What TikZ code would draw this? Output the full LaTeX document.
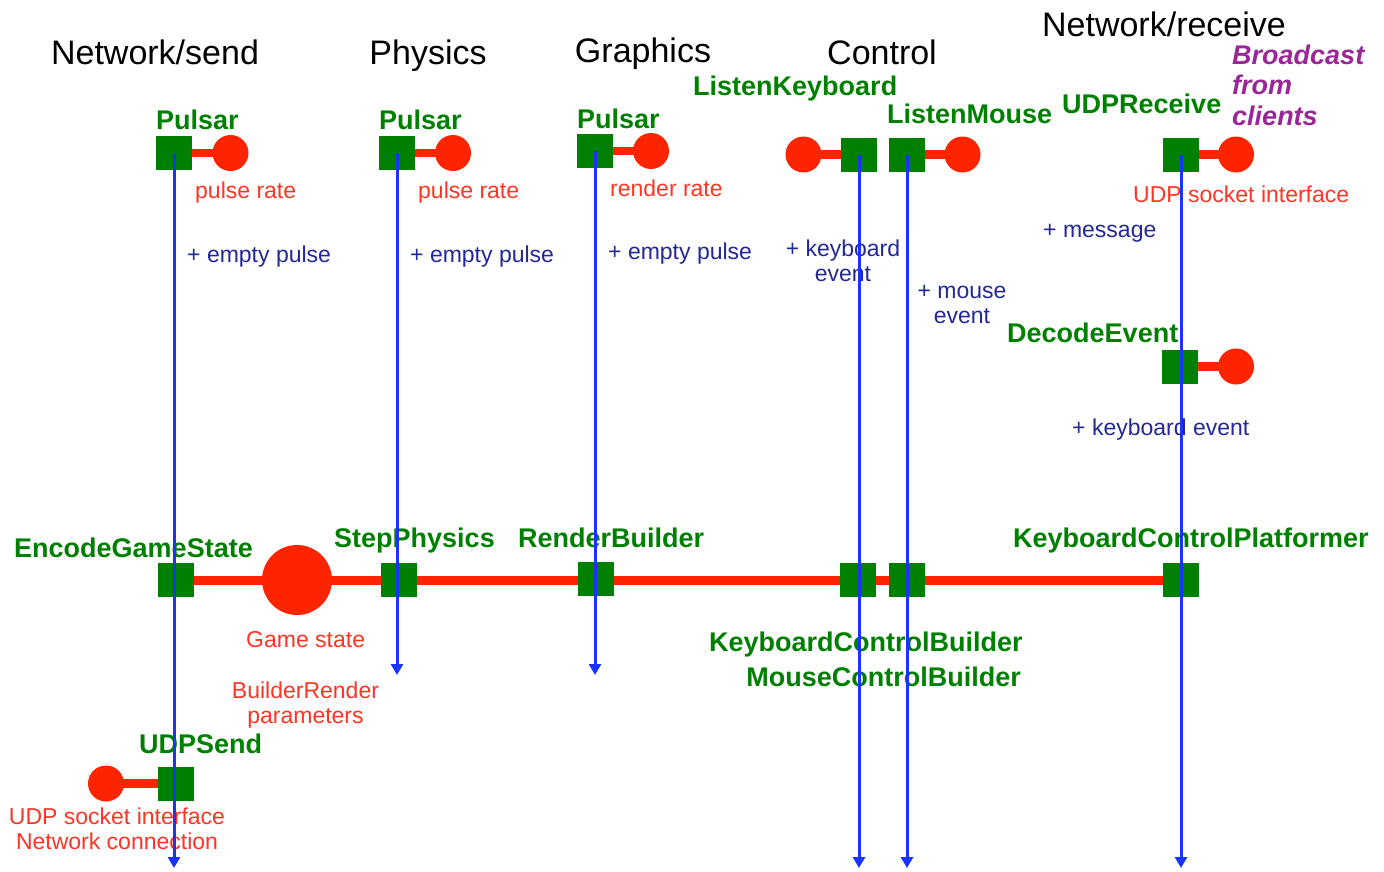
\documentclass[tikz,border=0pt]{standalone}
\usepackage{fontspec}
\setmainfont{Liberation Sans}
\usetikzlibrary{arrows.meta}
\definecolor{boxgreen}{RGB}{0,128,0}
\definecolor{portred}{RGB}{255,36,0}
\definecolor{notered}{RGB}{255,52,36}
\definecolor{flowblue}{RGB}{26,51,255}
\definecolor{msgblue}{RGB}{36,40,150}
\definecolor{castpurple}{RGB}{153,40,150}
\begin{document}
\begin{tikzpicture}[x=1pt,y=-1pt,
  comp/.style={rectangle,fill=boxgreen,minimum width=36pt,minimum height=34pt,inner sep=0pt},
  port/.style={circle,fill=portred,minimum size=36pt,inner sep=0pt},
  link/.style={draw=portred,line width=8.5pt},
  flow/.style={draw=flowblue,line width=3pt,-{Triangle[width=12pt,length=11pt]}},
  colhead/.style={font=\fontsize{34}{40}\selectfont,anchor=base,inner sep=0pt},
  compname/.style={font=\fontsize{27}{30}\selectfont\bfseries,text=boxgreen,anchor=base west,inner sep=0pt},
  cast/.style={font=\fontsize{27}{30.5}\selectfont\bfseries\itshape,text=castpurple,anchor=base west,align=left,inner sep=0pt},
  note/.style={font=\fontsize{23}{25}\selectfont,text=notered,anchor=base west,inner sep=0pt},
  msg/.style={font=\fontsize{23}{25}\selectfont,text=msgblue,anchor=base west,inner sep=0pt},
]
\useasboundingbox[fill=white] (0,0) rectangle (1384,871);

% column headings
\node[colhead] (hsend) at (155,64) {Network/send};
\node[colhead] (hphys) at (428,64) {Physics};
\node[colhead] (hgfx)  at (643,62) {Graphics};
\node[colhead] (hctl)  at (882,64) {Control};
\node[colhead] (hrecv) at (1164,36) {Network/receive};

% red connectors, drawn first so the components sit on top
\coordinate (p1) at (174,153);   \coordinate (p1c) at (230.5,153);
\coordinate (p2) at (397,153);   \coordinate (p2c) at (453,153);
\coordinate (p3) at (595,151);   \coordinate (p3c) at (651,151);
\coordinate (lk) at (859,154.5); \coordinate (lkc) at (803.5,154.5);
\coordinate (lm) at (907,154.5); \coordinate (lmc) at (962.5,154.5);
\coordinate (ur) at (1181,154.5);\coordinate (urc) at (1236,154.5);
\coordinate (de) at (1180,366.5);\coordinate (dec) at (1236,366.5);
\coordinate (us) at (176,783.5); \coordinate (usc) at (106,783.5);
\coordinate (enc) at (176,580);  \coordinate (kcp) at (1180.5,580);
\draw[link] (p1) -- (p1c);
\draw[link] (p2) -- (p2c);
\draw[link] (p3) -- (p3c);
\draw[link] (lk) -- (lkc);
\draw[link] (lm) -- (lmc);
\draw[link] (ur) -- (urc);
\draw[link] (de) -- (dec);
\draw[link] (us) -- (usc);
\draw[link,line width=9pt] (enc) -- (kcp);

% top row components with their ports
\node[comp] (sp1) at (p1) {};
\node[port] (cp1) at (p1c) {};
\node[comp] (sp2) at (p2) {};
\node[port] (cp2) at (p2c) {};
\node[comp] (sp3) at (p3) {};
\node[port] (cp3) at (p3c) {};
\node[comp] (slk) at (lk) {};
\node[port] (clk) at (lkc) {};
\node[comp] (slm) at (lm) {};
\node[port] (clm) at (lmc) {};
\node[comp] (sur) at (ur) {};
\node[port] (cur) at (urc) {};
\node[comp] (sde) at (de) {};
\node[port] (cde) at (dec) {};

% bottom row components on the shared state bus
\node[comp] (senc) at (enc) {};
\node[port,minimum size=70pt] (gs) at (297,580) {};
\node[comp] (phys) at (399,580) {};
\node[comp] (rb)   at (596,579) {};
\node[comp] (kcb)  at (858,580) {};
\node[comp] (mcb)  at (907,580) {};
\node[comp] (skcp) at (kcp) {};
\node[comp] (sus)  at (us) {};
\node[port] (cus)  at (usc) {};

% component names
\node[compname] (t1) at (156,129) {Pulsar};
\node[compname] (t2) at (379,129) {Pulsar};
\node[compname] (t3) at (577,128) {Pulsar};
\node[compname] (tlk) at (693,95) {ListenKeyboard};
\node[compname] (tlm) at (887,123) {ListenMouse};
\node[compname] (tur) at (1062,113) {UDPReceive};
\node[compname] (tde) at (1007,342) {DecodeEvent};
\node[compname] (tenc) at (14,557) {EncodeGameState};
\node[compname] (tphys) at (334,547) {StepPhysics};
\node[compname] (trb) at (518,547) {RenderBuilder};
\node[compname] (tkcp) at (1013,547) {KeyboardControlPlatformer};
\node[compname] (tkcb) at (709,651) {KeyboardControlBuilder};
\node[compname,anchor=base east] (tmcb) at (1021,686) {MouseControlBuilder};
\node[compname] (tus) at (139,753) {UDPSend};
% multi-line texts: the base anchor sits on the last line
\node[cast] (tcast) at (1232,125) {Broadcast\\from\\clients};

% port notes
\node[note] (n1) at (195,198) {pulse rate};
\node[note] (n2) at (418,198) {pulse rate};
\node[note] (n3) at (610,196) {render rate};
\node[note] (n4) at (1133,202) {UDP socket interface};
\node[note] (ngs) at (246,647) {Game state};
\node[note,anchor=base,align=center] (nbr) at (305.5,723) {BuilderRender\\parameters};
\node[note,anchor=base,align=center] (nus) at (117,849) {UDP socket interface\\Network connection};

% message notes
\node[msg] (m1) at (187,262) {+ empty pulse};
\node[msg] (m2) at (410,262) {+ empty pulse};
\node[msg] (m3) at (608,259) {+ empty pulse};
\node[msg,anchor=base,align=center] (mk) at (843,281) {+ keyboard\\event};
\node[msg,anchor=base,align=center] (mm) at (962,323) {+ mouse\\event};
\node[msg] (mr) at (1043,237) {+ message};
\node[msg] (md) at (1072,435) {+ keyboard event};

% message flows
\coordinate (e1) at (174,868);
\coordinate (e2) at (397,675);
\coordinate (e3) at (595,675);
\coordinate (e4) at (859,868);
\coordinate (e5) at (907,868);
\coordinate (e6) at (1181,868);
\draw[flow] (sp1.center) -- (e1);
\draw[flow] (sp2.center) -- (e2);
\draw[flow] (sp3.center) -- (e3);
\draw[flow] (slk.center) -- (e4);
\draw[flow] (slm.center) -- (e5);
\draw[flow] (sur.center) -- (e6);
\end{tikzpicture}
\end{document}
